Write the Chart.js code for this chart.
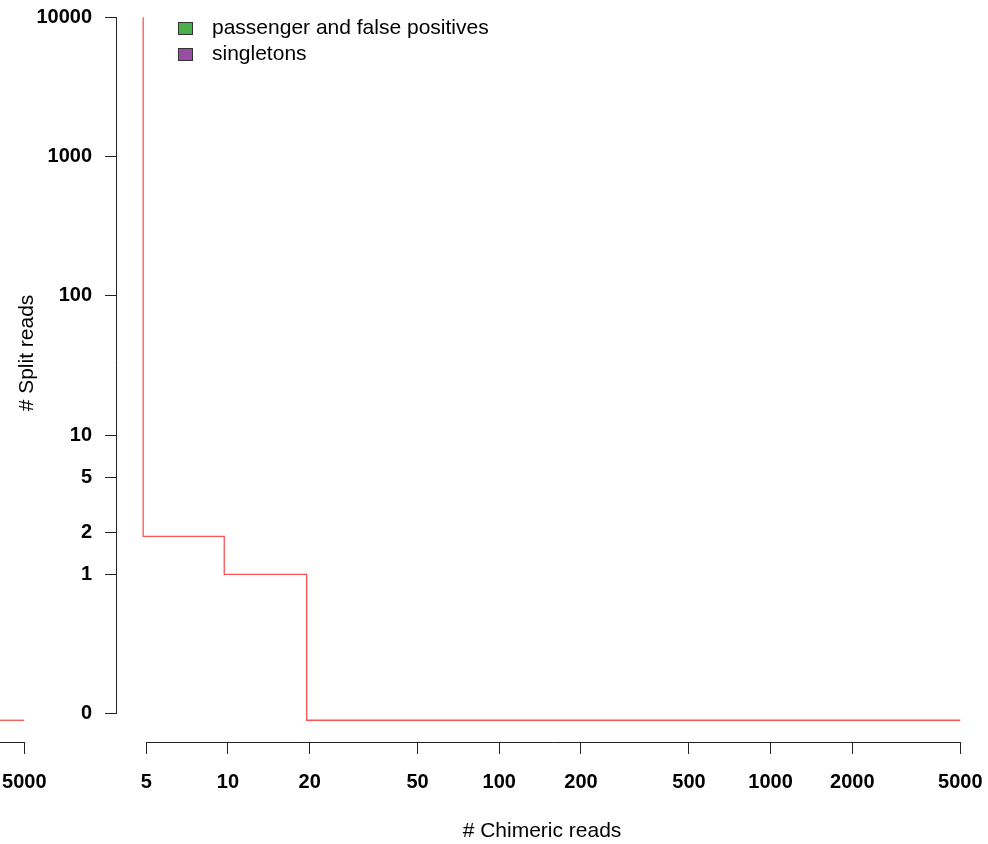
<!DOCTYPE html>
<html><head><meta charset="utf-8">
<script src="https://cdn.jsdelivr.net/npm/chart.js@4.4.1/dist/chart.umd.min.js"></script>
<style>
html,body{margin:0;padding:0;background:#fff;overflow:hidden;width:988px;height:844px;position:relative;}
.panel{position:absolute;top:-36px;width:988px;height:880px;}
#main{left:0;}
#prev{left:-936px;}
.legend{position:absolute;left:178px;top:14px;font:21px "Liberation Sans",Arial,sans-serif;color:#000;}
.legend div{position:relative;height:26px;line-height:26px;padding-left:34px;white-space:nowrap;}
.legend span.box{position:absolute;left:0;top:7.7px;width:15px;height:13px;box-sizing:border-box;border:1px solid #333;}
</style></head>
<body>
<div class="panel" id="prev"><canvas id="c2" width="988" height="880"></canvas></div>
<div class="panel" id="main"><canvas id="c1" width="988" height="880"></canvas></div>
<div class="legend" id="legend"></div>
<script>
// ---- data ----
const chimericBreaks = [4.87, 9.69, 19.5, 5000];
const splitLevels = [10000, 1.88, 1, 0.0898];
const prevPanelChimeric = [4000, 5000];
const prevPanelSplit = [0.0898, 0.0898];
const xTicks = [5, 10, 20, 50, 100, 200, 500, 1000, 2000, 5000];
const yTickValues = [0.1, 1, 2, 5, 10, 100, 1000, 10000];
const yTickLabels = ['0', '1', '2', '5', '10', '100', '1000', '10000'];
const legendLabels = ['passenger and false positives', 'singletons'];
const legendColors = ['#4daf4a', '#984ea3'];

Chart.defaults.font.family = '"Liberation Sans", Arial, sans-serif';
Chart.defaults.color = '#000';

const axisLines = {
  id: 'axisLines',
  afterDraw(chart) {
    const ctx = chart.ctx, xs = chart.scales.x, ys = chart.scales.y;
    ctx.save();
    ctx.strokeStyle = '#222';
    ctx.lineWidth = 1;
    ctx.beginPath();
    const yy = Math.round(xs.top) + 0.5;
    ctx.moveTo(xs.getPixelForValue(xTicks[0]), yy);
    ctx.lineTo(xs.getPixelForValue(xTicks[xTicks.length - 1]), yy);
    const xx = Math.round(ys.right) - 0.5;
    ctx.moveTo(xx, ys.getPixelForValue(yTickValues[yTickValues.length - 1]));
    ctx.lineTo(xx, ys.getPixelForValue(yTickValues[0]));
    ctx.stroke();
    ctx.restore();
  }
};

function makeConfig(xv, yv) {
  return {
    type: 'line',
    data: {
      datasets: [{
        data: xv.map((x, i) => ({ x: x, y: yv[i] })),
        borderColor: '#ff5252',
        borderWidth: 1.3,
        pointRadius: 0,
        stepped: 'after',
        fill: false
      }]
    },
    options: {
      responsive: false,
      animation: false,
      devicePixelRatio: 1,
      layout: { autoPadding: false, padding: { left: 0, right: 21, top: 0, bottom: 0 } },
      plugins: { legend: { display: false }, tooltip: { enabled: false } },
      scales: {
        x: {
          type: 'logarithmic', position: 'bottom', min: 3.90, max: 5294, bounds: 'data',
          afterBuildTicks: s => { s.ticks = xTicks.map(v => ({ value: v })); },
          afterFit: s => { s.height = 102; s.paddingLeft = 0; s.paddingRight = 0; },
          ticks: { autoSkip: false, maxRotation: 0, minRotation: 0, padding: 16,
                   font: { size: 20, weight: 'bold' }, color: '#000',
                   callback: v => String(v) },
          grid: { display: true, drawOnChartArea: false, drawTicks: true, tickLength: 12, color: '#222' },
          border: { display: false },
          title: { display: true, text: '# Chimeric reads', font: { size: 21 }, color: '#000', padding: { top: 0, bottom: 0 } }
        },
        y: {
          type: 'logarithmic', position: 'left', min: 0.0627, max: 24130, bounds: 'data',
          afterBuildTicks: s => { s.ticks = yTickValues.map(v => ({ value: v })); },
          afterFit: s => { s.width = 117; s.paddingTop = 0; s.paddingBottom = 0; },
          ticks: { autoSkip: false, padding: 13, font: { size: 20, weight: 'bold' }, color: '#000',
                   callback: v => { const i = yTickValues.findIndex(t => Math.abs(t - v) < 1e-9 * Math.max(1, t)); return i >= 0 ? yTickLabels[i] : ''; } },
          grid: { display: true, drawOnChartArea: false, drawTicks: true, tickLength: 12, color: '#222' },
          border: { display: false },
          title: { display: true, text: '# Split reads', font: { size: 21 }, color: '#000', padding: { top: 15, bottom: 0 } }
        }
      }
    },
    plugins: [axisLines]
  };
}

new Chart(document.getElementById('c2'), makeConfig(prevPanelChimeric, prevPanelSplit));
new Chart(document.getElementById('c1'), makeConfig(chimericBreaks, splitLevels));

const lg = document.getElementById('legend');
legendLabels.forEach((t, i) => {
  const d = document.createElement('div');
  const b = document.createElement('span');
  b.className = 'box';
  b.style.background = legendColors[i];
  d.appendChild(b);
  d.appendChild(document.createTextNode(t));
  lg.appendChild(d);
});
</script>
</body></html>
